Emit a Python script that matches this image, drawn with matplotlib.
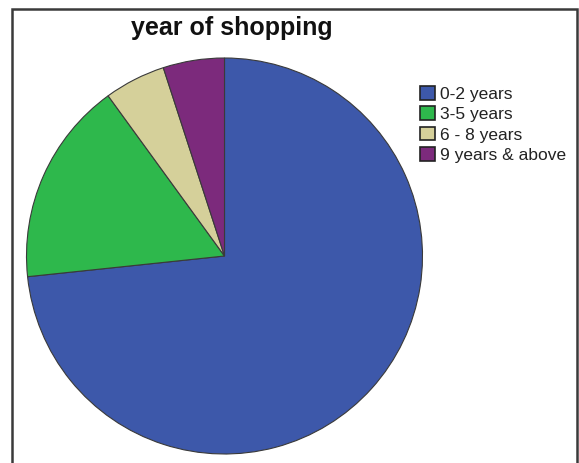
import matplotlib.pyplot as plt
from matplotlib.patches import Rectangle

# years of shopping experience (respondent counts)
labels = ['0-2 years', '3-5 years', '6 - 8 years', '9 years & above']
counts = [44, 10, 3, 3]
colors = ['#3D58AA', '#2EB84C', '#D5D09A', '#7C2A7C']

W, H = 579, 463
fig = plt.figure(figsize=(W / 100, H / 100), dpi=100)
fig.patch.set_facecolor('white')

# outer chart frame (open at the bottom)
fig.add_artist(Rectangle((12 / W, -0.05), (577 - 12) / W, 1.05 - 9 / H,
                         transform=fig.transFigure, fill=False,
                         edgecolor='#3a3a3a', linewidth=1.8))

cx, cy, r = 224.5, 256, 198
ax = fig.add_axes([(cx - r) / W, (H - cy - r) / H, 2 * r / W, 2 * r / H])
wedges, _ = ax.pie(counts, colors=colors, startangle=90, counterclock=False,
                   radius=1,
                   wedgeprops=dict(edgecolor='#3a3a3a', linewidth=0.8))
ax.set_xlim(-1, 1)
ax.set_ylim(-1, 1)
ax.set_aspect('equal')
ax.axis('off')

fig.text(232 / W, 1 - 28 / H, 'year of shopping', ha='center', va='center',
         fontsize=18, fontweight='bold', family='Liberation Sans',
         color='#111111')

leg = fig.legend(wedges, labels, loc='upper left',
                 bbox_to_anchor=(420 / W, 1 - 86 / H),
                 bbox_transform=fig.transFigure, frameon=False,
                 borderpad=0, borderaxespad=0, handlelength=0.88,
                 handleheight=0.82, handletextpad=0.25, labelspacing=0.27,
                 prop=dict(family='Liberation Sans', size=12.5))
for h in leg.legend_handles:
    h.set_edgecolor('#222222')
    h.set_linewidth(1.2)
for t in leg.get_texts():
    t.set_color('#222222')

fig.savefig('out.png', dpi=100)
